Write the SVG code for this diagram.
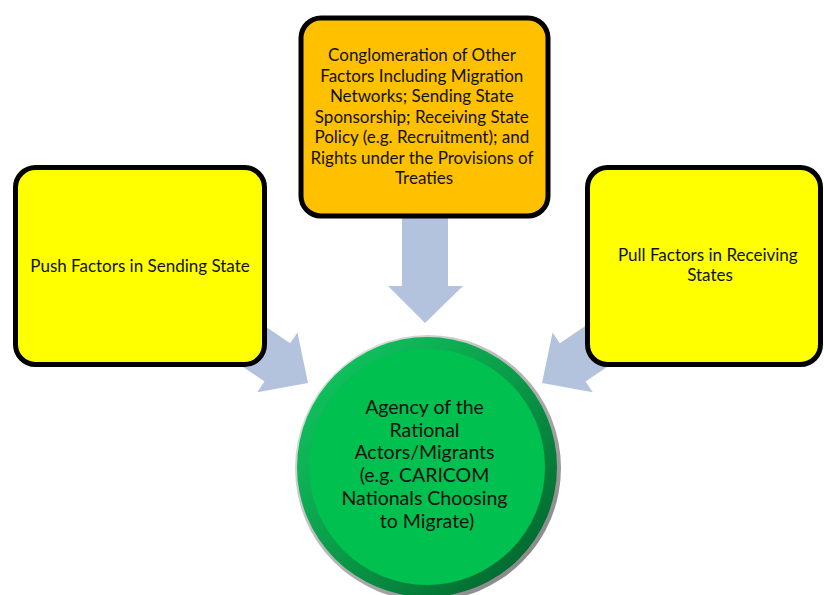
<svg xmlns="http://www.w3.org/2000/svg" width="824" height="595" viewBox="0 0 824 595">
  <style>
    .box { stroke: #000; stroke-width: 5; }
    .arrow { fill: #B3C3DD; }
    .t { font-family: Lato, "Liberation Sans", sans-serif; fill: #111; text-anchor: middle; }
    .small { font-size: 17px; }
    .big { font-size: 19.5px; }
  </style>
  <defs>
    <linearGradient id="ringG" x1="0" y1="0" x2="1" y2="1">
      <stop offset="0" stop-color="#12CE64"/>
      <stop offset="0.5" stop-color="#0A9A48"/>
      <stop offset="1" stop-color="#005A28"/>
    </linearGradient>
    <linearGradient id="shadowG" x1="0" y1="0" x2="1" y2="1">
      <stop offset="0" stop-color="#EEEEEE"/>
      <stop offset="1" stop-color="#7A7A7A"/>
    </linearGradient>
    <polygon id="diagArrow" points="0,0 -37,-36 -37,-23 -115,-23 -115,23 -37,23 -37,36"/>
  </defs>

  <rect width="824" height="595" fill="#fff"/>

  <g id="connectors">
    <polygon class="arrow" points="402,200 448,200 448,286 463,286 425,323 388,286 402,286"/>
    <use href="#diagArrow" class="arrow" transform="translate(308,383) rotate(34)"/>
    <use href="#diagArrow" class="arrow" transform="translate(850,0) scale(-1,1) translate(308,383) rotate(34)"/>
  </g>

  <g id="node-top">
    <rect class="box" x="301" y="18" width="247" height="198" rx="20" fill="#FFC000"/>
    <text class="t small">
      <tspan x="424" y="61">Conglomeration of Other</tspan>
      <tspan x="424" y="82">Factors Including Migration</tspan>
      <tspan x="424" y="102">Networks; Sending State</tspan>
      <tspan x="424" y="123">Sponsorship; Receiving State</tspan>
      <tspan x="424" y="143">Policy (e.g. Recruitment); and</tspan>
      <tspan x="424" y="164">Rights under the Provisions of</tspan>
      <tspan x="424" y="184">Treaties</tspan>
    </text>
  </g>

  <g id="node-push">
    <rect class="box" x="15.5" y="167.5" width="249" height="197" rx="20" fill="#FFFF00"/>
    <text class="t small" x="140" y="272">Push Factors in Sending State</text>
  </g>

  <g id="node-pull">
    <rect class="box" x="587.5" y="167.5" width="233" height="197" rx="20" fill="#FFFF00"/>
    <text class="t small">
      <tspan x="710" y="261">Pull Factors in Receiving</tspan>
      <tspan x="710" y="281">States</tspan>
    </text>
  </g>

  <g id="node-agency">
    <circle cx="428" cy="468" r="133" fill="url(#shadowG)"/>
    <circle cx="427" cy="467" r="130" fill="url(#ringG)"/>
    <circle cx="427" cy="467" r="118" fill="#00C050"/>
    <text class="t big">
      <tspan x="427" y="414">Agency of the</tspan>
      <tspan x="427" y="437">Rational</tspan>
      <tspan x="427" y="459">Actors/Migrants</tspan>
      <tspan x="427" y="482">(e.g. CARICOM</tspan>
      <tspan x="427" y="505">Nationals Choosing</tspan>
      <tspan x="427" y="528">to Migrate)</tspan>
    </text>
  </g>
</svg>
